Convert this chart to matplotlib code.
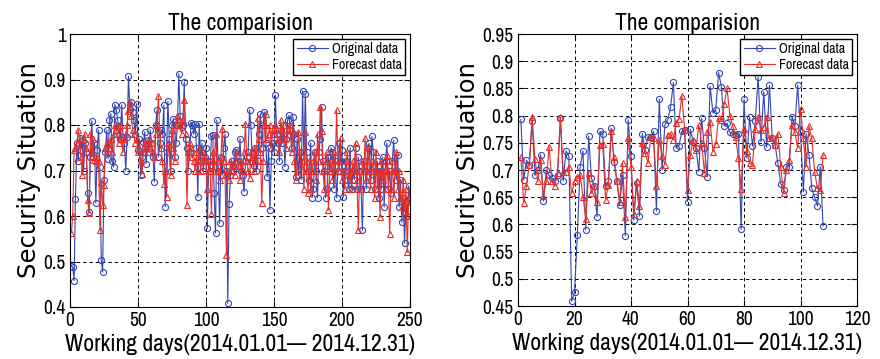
import matplotlib
matplotlib.use("Agg")
import matplotlib.pyplot as plt
import numpy as np

NARROW = ['Archivo Narrow', 'Liberation Sans', 'DejaVu Sans']
plt.rcParams['font.family'] = NARROW

# ---- whole-year series (working days 1..250) ----
orig_year = [
    0.49, 0.488, 0.458, 0.638, 0.76, 0.72, 0.772, 0.745, 0.765, 0.70,
    0.76, 0.74, 0.65, 0.609, 0.73, 0.809, 0.73, 0.76, 0.629, 0.745,
    0.789, 0.708, 0.503, 0.477, 0.679, 0.74, 0.789, 0.726, 0.811, 0.825,
    0.72, 0.708, 0.845, 0.833, 0.812, 0.796, 0.77, 0.844, 0.774, 0.76,
    0.70, 0.774, 0.907, 0.836, 0.851, 0.829, 0.811, 0.78, 0.847, 0.745,
    0.77, 0.69, 0.73, 0.763, 0.785, 0.715, 0.767, 0.74, 0.789, 0.76,
    0.73, 0.675, 0.80, 0.833, 0.73, 0.76, 0.79, 0.781, 0.844, 0.62,
    0.74, 0.852, 0.77, 0.70, 0.80, 0.814, 0.73, 0.76, 0.80, 0.913,
    0.82, 0.796, 0.80, 0.895, 0.77, 0.75, 0.70, 0.74, 0.805, 0.80,
    0.78, 0.802, 0.75, 0.642, 0.803, 0.72, 0.76, 0.70, 0.73, 0.75,
    0.573, 0.72, 0.70, 0.775, 0.778, 0.65, 0.562, 0.811, 0.70, 0.584,
    0.73, 0.69, 0.75, 0.78, 0.70, 0.408, 0.627, 0.69, 0.72, 0.70,
    0.74, 0.745, 0.72, 0.71, 0.77, 0.70, 0.69, 0.653, 0.72, 0.73,
    0.74, 0.833, 0.80, 0.72, 0.71, 0.75, 0.70, 0.72, 0.78, 0.825,
    0.75, 0.80, 0.829, 0.76, 0.686, 0.75, 0.614, 0.72, 0.76, 0.74,
    0.866, 0.78, 0.76, 0.72, 0.79, 0.76, 0.80, 0.708, 0.77, 0.81,
    0.821, 0.79, 0.75, 0.817, 0.78, 0.686, 0.77, 0.69, 0.74, 0.68,
    0.875, 0.72, 0.869, 0.74, 0.70, 0.68, 0.76, 0.64, 0.66, 0.74,
    0.70, 0.64, 0.74, 0.77, 0.839, 0.72, 0.70, 0.64, 0.66, 0.73,
    0.70, 0.75, 0.74, 0.66, 0.72, 0.64, 0.70, 0.76, 0.72, 0.744,
    0.642, 0.70, 0.72, 0.68, 0.66, 0.75, 0.66, 0.70, 0.68, 0.75,
    0.66, 0.73, 0.70, 0.66, 0.569, 0.72, 0.70, 0.66, 0.75, 0.76,
    0.68, 0.775, 0.74, 0.66, 0.70, 0.72, 0.64, 0.70, 0.66, 0.73,
    0.62, 0.72, 0.76, 0.66, 0.70, 0.65, 0.72, 0.766, 0.70, 0.68,
    0.735, 0.62, 0.68, 0.586, 0.64, 0.54, 0.63, 0.60, 0.666, 0.64,
]
fcst_year = [
    0.563, 0.60, 0.745, 0.75, 0.76, 0.789, 0.77, 0.73, 0.69, 0.77,
    0.78, 0.75, 0.635, 0.606, 0.78, 0.73, 0.77, 0.723, 0.72, 0.73,
    0.72, 0.569, 0.675, 0.624, 0.668, 0.75, 0.76, 0.74, 0.75, 0.77,
    0.74, 0.78, 0.80, 0.79, 0.78, 0.76, 0.80, 0.77, 0.74, 0.77,
    0.78, 0.80, 0.83, 0.851, 0.82, 0.79, 0.78, 0.76, 0.77, 0.74,
    0.75, 0.72, 0.693, 0.74, 0.76, 0.75, 0.74, 0.77, 0.75, 0.76,
    0.74, 0.73, 0.78, 0.80, 0.863, 0.78, 0.75, 0.72, 0.671, 0.70,
    0.642, 0.76, 0.74, 0.69, 0.79, 0.75, 0.72, 0.80, 0.82, 0.81,
    0.80, 0.78, 0.81, 0.856, 0.78, 0.624, 0.74, 0.76, 0.75, 0.73,
    0.72, 0.70, 0.74, 0.70, 0.75, 0.70, 0.72, 0.74, 0.73, 0.72,
    0.66, 0.72, 0.70, 0.605, 0.74, 0.70, 0.78, 0.72, 0.70, 0.68,
    0.73, 0.792, 0.72, 0.69, 0.514, 0.70, 0.68, 0.72, 0.70, 0.71,
    0.69, 0.74, 0.72, 0.71, 0.68, 0.72, 0.70, 0.74, 0.803, 0.72,
    0.70, 0.683, 0.74, 0.73, 0.70, 0.75, 0.72, 0.815, 0.77, 0.74,
    0.629, 0.72, 0.80, 0.825, 0.77, 0.78, 0.80, 0.75, 0.79, 0.78,
    0.80, 0.79, 0.77, 0.74, 0.81, 0.78, 0.80, 0.77, 0.75, 0.79,
    0.78, 0.80, 0.74, 0.785, 0.72, 0.68, 0.70, 0.785, 0.74, 0.71,
    0.72, 0.66, 0.785, 0.70, 0.65, 0.72, 0.66, 0.70, 0.72, 0.74,
    0.68, 0.78, 0.72, 0.84, 0.787, 0.70, 0.66, 0.72, 0.74, 0.613,
    0.70, 0.72, 0.68, 0.74, 0.70, 0.832, 0.72, 0.70, 0.771, 0.68,
    0.70, 0.66, 0.72, 0.74, 0.68, 0.70, 0.66, 0.72, 0.70, 0.76,
    0.68, 0.569, 0.70, 0.66, 0.72, 0.70, 0.771, 0.68, 0.751, 0.70,
    0.66, 0.72, 0.70, 0.64, 0.74, 0.66, 0.70, 0.598, 0.72, 0.68,
    0.70, 0.66, 0.733, 0.70, 0.561, 0.66, 0.72, 0.64, 0.70, 0.74,
    0.66, 0.70, 0.64, 0.62, 0.68, 0.61, 0.66, 0.52, 0.64, 0.63,
]

# ---- shorter series (days 1..108) ----
orig_short = [
    0.793, 0.682, 0.718, 0.71, 0.79, 0.69, 0.70, 0.728, 0.643, 0.70,
    0.69, 0.685, 0.68, 0.69, 0.795, 0.68, 0.735, 0.726, 0.459, 0.475,
    0.58, 0.706, 0.735, 0.59, 0.762, 0.685, 0.67, 0.614, 0.771, 0.767,
    0.67, 0.68, 0.777, 0.715, 0.68, 0.635, 0.69, 0.579, 0.792, 0.725,
    0.608, 0.677, 0.615, 0.767, 0.737, 0.761, 0.76, 0.771, 0.625, 0.83,
    0.70, 0.784, 0.792, 0.815, 0.861, 0.74, 0.745, 0.771, 0.774, 0.642,
    0.775, 0.752, 0.74, 0.697, 0.795, 0.74, 0.688, 0.854, 0.805, 0.81,
    0.879, 0.853, 0.781, 0.786, 0.769, 0.767, 0.764, 0.767, 0.591, 0.83,
    0.722, 0.798, 0.744, 0.79, 0.871, 0.752, 0.844, 0.742, 0.856, 0.758,
    0.746, 0.712, 0.675, 0.664, 0.706, 0.706, 0.798, 0.78, 0.856, 0.77,
    0.66, 0.767, 0.728, 0.666, 0.65, 0.634, 0.706, 0.597,
]
fcst_short = [
    0.723, 0.64, 0.671, 0.71, 0.797, 0.72, 0.679, 0.718, 0.652, 0.679,
    0.743, 0.68, 0.67, 0.694, 0.797, 0.697, 0.697, 0.706, 0.657, 0.68,
    0.688, 0.69, 0.651, 0.61, 0.695, 0.657, 0.67, 0.642, 0.746, 0.748,
    0.645, 0.672, 0.771, 0.723, 0.68, 0.642, 0.712, 0.614, 0.759, 0.706,
    0.62, 0.679, 0.634, 0.749, 0.732, 0.713, 0.761, 0.758, 0.67, 0.755,
    0.726, 0.71, 0.765, 0.767, 0.756, 0.786, 0.794, 0.836, 0.773, 0.663,
    0.728, 0.755, 0.737, 0.783, 0.75, 0.694, 0.77, 0.789, 0.734, 0.748,
    0.795, 0.792, 0.822, 0.85, 0.80, 0.781, 0.761, 0.722, 0.665, 0.776,
    0.735, 0.712, 0.71, 0.776, 0.797, 0.773, 0.779, 0.797, 0.758, 0.758,
    0.746, 0.767, 0.706, 0.657, 0.70, 0.718, 0.783, 0.77, 0.741, 0.812,
    0.758, 0.706, 0.781, 0.758, 0.697, 0.666, 0.663, 0.728,
]

left_xticks = [0, 50, 100, 150, 200, 250]
left_yticks = [0.4, 0.5, 0.6, 0.7, 0.8, 0.9, 1.0]
left_ylabels = ['0.4', '0.5', '0.6', '0.7', '0.8', '0.9', '1']
right_xticks = [0, 20, 40, 60, 80, 100, 120]
right_yticks = [0.45, 0.5, 0.55, 0.6, 0.65, 0.7, 0.75, 0.8, 0.85, 0.9, 0.95]
right_ylabels = ['0.45', '0.5', '0.55', '0.6', '0.65', '0.7', '0.75', '0.8',
                 '0.85', '0.9', '0.95']

BLUE = '#3347b3'
RED = '#e62e2a'

fig = plt.figure(figsize=(8.8, 3.59), dpi=100)
ax1 = fig.add_axes([70 / 880, 1 - 307 / 359, 340 / 880, 273 / 359])
ax2 = fig.add_axes([518 / 880, 1 - 306 / 359, 339 / 880, 272 / 359])


def draw(ax, orig, fcst, xt, yt, ylab, xlim, ylim):
    x = np.arange(1, len(orig) + 1)
    ax.plot(x, orig, '-o', color=BLUE, lw=0.8, ms=4.4, mfc='none', mew=0.8,
            label='Original data')
    ax.plot(x, fcst, '-^', color=RED, lw=0.8, ms=4.8, mfc='none', mew=0.8,
            label='Forecast data')
    ax.set_xlim(*xlim)
    ax.set_ylim(*ylim)
    ax.set_xticks(xt)
    ax.set_yticks(yt)
    ax.set_yticklabels(ylab)
    ax.grid(True, color='k', ls=(0, (3.5, 3)), lw=0.7)
    ax.tick_params(direction='in', labelsize=14, length=4, width=0.8,
                   top=True, right=True, pad=3)
    for s in ax.spines.values():
        s.set_linewidth(0.8)
    ax.set_title('The comparision', fontsize=17, pad=3)
    ax.set_xlabel('Working days(2014.01.01\u2014 2014.12.31)', fontsize=17,
                  labelpad=3)
    ax.set_ylabel('Security Situation', fontsize=17.5,
                  family=['DejaVu Sans'], labelpad=2)
    leg = ax.legend(loc='upper right', fontsize=10, frameon=True,
                    fancybox=False, edgecolor='k', framealpha=1,
                    borderaxespad=0.35, handlelength=2.2, borderpad=0.25,
                    labelspacing=0.1, handletextpad=0.3)
    leg.get_frame().set_linewidth(1.0)


draw(ax1, orig_year, fcst_year, left_xticks, left_yticks, left_ylabels,
     (0, 250), (0.4, 1.0))
draw(ax2, orig_short, fcst_short, right_xticks, right_yticks, right_ylabels,
     (0, 120), (0.45, 0.95))

fig.savefig('out.png', dpi=100)
